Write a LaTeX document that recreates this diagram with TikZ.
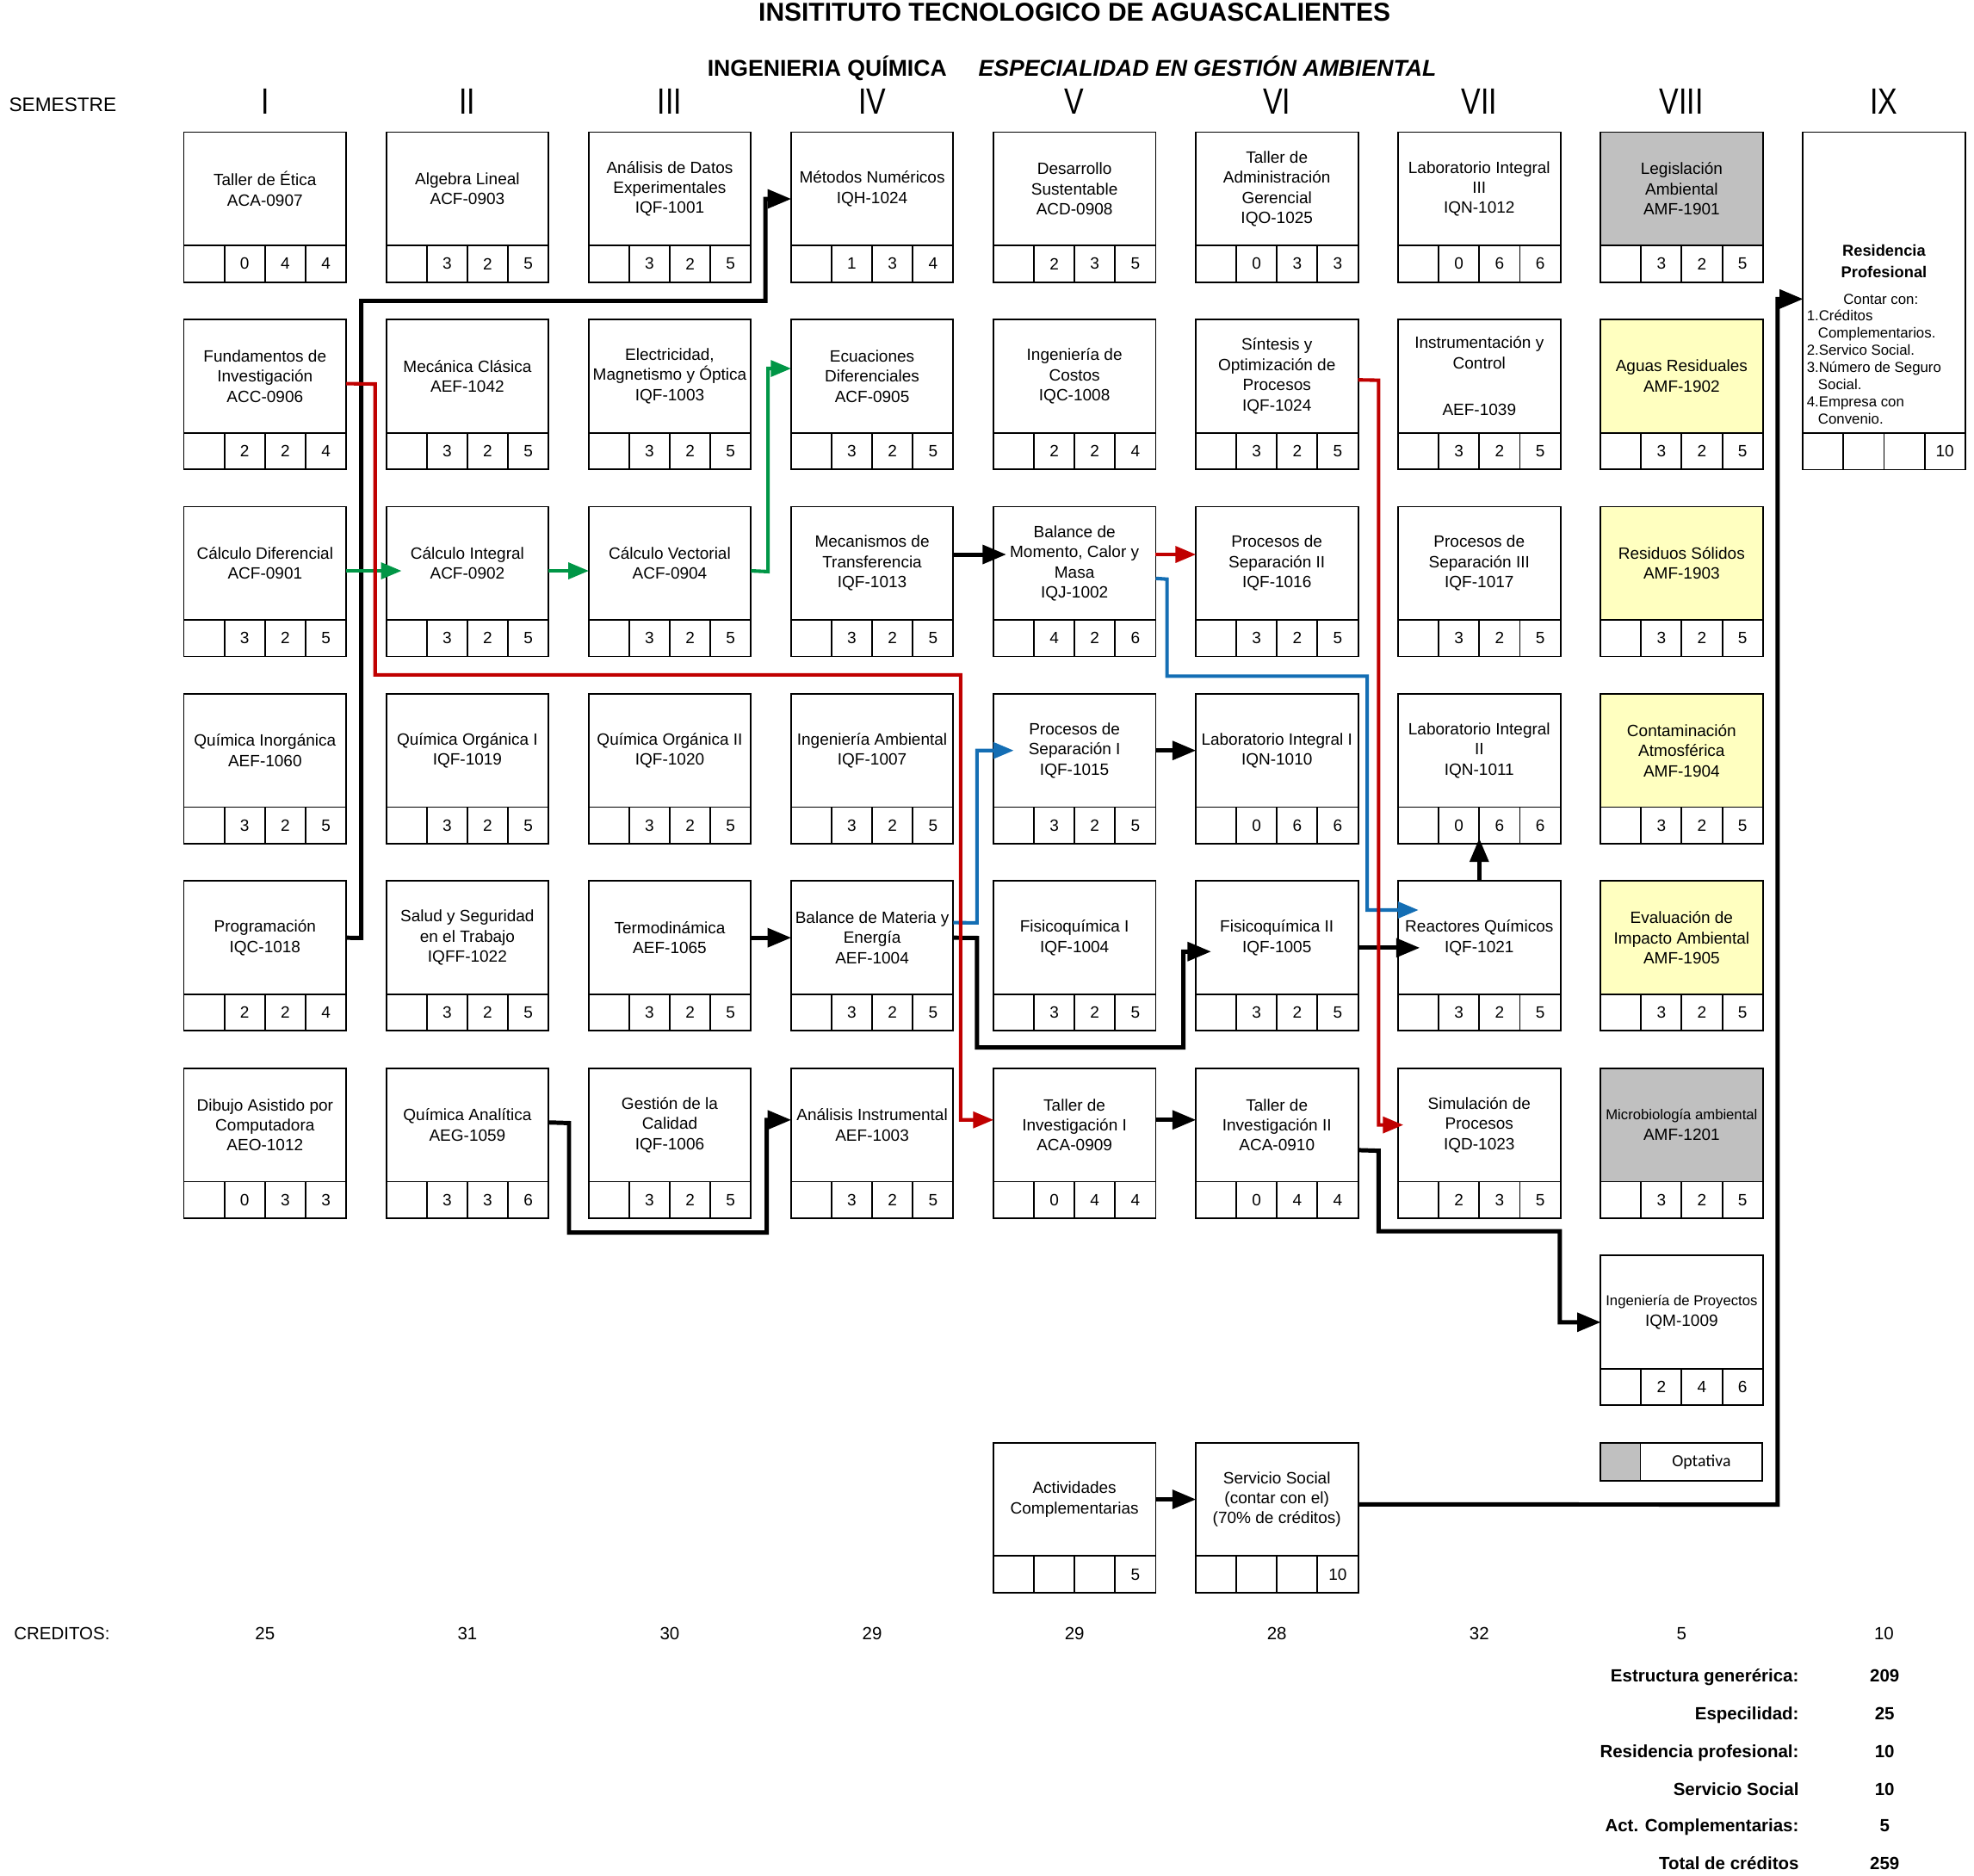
\documentclass[tikz,border=0pt]{standalone}
\usepackage{fontspec}
\setmainfont{Liberation Sans}
\newfontfamily\optfont{Carlito}
\newfontfamily\romfont[FakeStretch=0.8]{Liberation Sans}
\usepackage{tikz}
\usetikzlibrary{positioning}
\usetikzlibrary{shapes,arrows}
\definecolor{colGris}{RGB}{192,192,192}
\definecolor{colAmarillo}{RGB}{255,255,192}
\definecolor{colRojo}{RGB}{192,0,0}
\definecolor{colVerde}{RGB}{0,150,70}
\definecolor{colAzul}{RGB}{20,110,180}

\begin{document}
\begin{tikzpicture}[x=1pt,y=-1pt,>=triangle 45,
  curso/.style={draw,line width=1.3pt,outer sep=0pt,inner sep=1pt,minimum width=129pt,minimum height=90pt,align=center,font=\fontsize{13}{16}\selectfont},
  celda/.style={draw,line width=1.3pt,outer sep=0pt,inner sep=0pt,minimum width=32.25pt,minimum height=29pt,font=\fontsize{13}{15}\selectfont},
  negra/.style={->,line width=3.4pt},
  roja/.style={->,line width=2.8pt,color=colRojo},
  verde/.style={->,line width=2.8pt,color=colVerde},
  azul/.style={->,line width=2.8pt,color=colAzul},
  rotulo/.style={anchor=base,inner sep=0pt,font=\fontsize{14}{16}\selectfont}
]
\useasboundingbox (0,0) rectangle (1568,1490);

\node[anchor=base,font=\bfseries\fontsize{20.5}{22}\selectfont] (titulo) at (853.5,17) {INSITITUTO TECNOLOGICO DE AGUASCALIENTES};
\node[anchor=base,font=\bfseries\fontsize{18.2}{20}\selectfont] (carrera) at (657,60.5) {INGENIERIA QUÍMICA};
\node[anchor=base,font=\bfseries\itshape\fontsize{18.2}{20}\selectfont] (espec) at (959,60.5) {ESPECIALIDAD EN GESTIÓN AMBIENTAL};
\node[anchor=base west,inner sep=0pt,font=\fontsize{15.5}{17}\selectfont] (semestre) at (7,88.5) {SEMESTRE};
\foreach \rn [count=\i] in {I,II,III,IV,V,VI,VII,VIII,IX}
  \node[anchor=base,font=\romfont\fontsize{29}{30}\selectfont] (sem\i) at ({210.5+160.75*(\i-1)},90.5) {\rn};

\foreach \cx/\ry/\id/\txt/\ca/\cb/\cc/\fc in {
  1/1/tet/{Taller de Ética\\ACA-0907}/0/4/4/white,
  1/2/fin/{Fundamentos de\\Investigación\\ACC-0906}/2/2/4/white,
  1/3/cdi/{Cálculo Diferencial\\ACF-0901}/3/2/5/white,
  1/4/qin/{Química Inorgánica\\AEF-1060}/3/2/5/white,
  1/5/prog/{Programación\\IQC-1018}/2/2/4/white,
  1/6/dib/{Dibujo Asistido por\\Computadora\\AEO-1012}/0/3/3/white,
  2/1/alg/{Algebra Lineal\\ACF-0903}/3/2/5/white,
  2/2/mec/{Mecánica Clásica\\AEF-1042}/3/2/5/white,
  2/3/cin/{Cálculo Integral\\ACF-0902}/3/2/5/white,
  2/4/qo1/{Química Orgánica I\\IQF-1019}/3/2/5/white,
  2/5/sal/{Salud y Seguridad\\en el Trabajo\\IQFF-1022}/3/2/5/white,
  2/6/qan/{Química Analítica\\AEG-1059}/3/3/6/white,
  3/1/adx/{Análisis de Datos\\Experimentales\\IQF-1001}/3/2/5/white,
  3/2/ele/{Electricidad,\\Magnetismo y Óptica\\IQF-1003}/3/2/5/white,
  3/3/cve/{Cálculo Vectorial\\ACF-0904}/3/2/5/white,
  3/4/qo2/{Química Orgánica II\\IQF-1020}/3/2/5/white,
  3/5/ter/{Termodinámica\\AEF-1065}/3/2/5/white,
  3/6/gca/{Gestión de la\\Calidad\\IQF-1006}/3/2/5/white,
  4/1/met/{Métodos Numéricos\\IQH-1024}/1/3/4/white,
  4/2/edi/{Ecuaciones\\Diferenciales\\ACF-0905}/3/2/5/white,
  4/3/mtr/{Mecanismos de\\Transferencia\\IQF-1013}/3/2/5/white,
  4/4/iam/{Ingeniería Ambiental\\IQF-1007}/3/2/5/white,
  4/5/bme/{Balance de Materia y\\Energía\\AEF-1004}/3/2/5/white,
  4/6/ains/{Análisis Instrumental\\AEF-1003}/3/2/5/white,
  5/1/des/{Desarrollo\\Sustentable\\ACD-0908}/2/3/5/white,
  5/2/cos/{Ingeniería de\\Costos\\IQC-1008}/2/2/4/white,
  5/3/bmo/{Balance de\\Momento, Calor y\\Masa\\IQJ-1002}/4/2/6/white,
  5/4/ps1/{Procesos de\\Separación I\\IQF-1015}/3/2/5/white,
  5/5/fq1/{Fisicoquímica I\\IQF-1004}/3/2/5/white,
  5/6/ti1/{Taller de\\Investigación I\\ACA-0909}/0/4/4/white,
  5/8/act/{Actividades\\Complementarias}/{}/{}/5/white,
  6/1/tad/{Taller de\\Administración\\Gerencial\\IQO-1025}/0/3/3/white,
  6/2/sop/{Síntesis y\\Optimización de\\Procesos\\IQF-1024}/3/2/5/white,
  6/3/ps2/{Procesos de\\Separación II\\IQF-1016}/3/2/5/white,
  6/4/li1/{Laboratorio Integral I\\IQN-1010}/0/6/6/white,
  6/5/fq2/{Fisicoquímica II\\IQF-1005}/3/2/5/white,
  6/6/ti2/{Taller de\\Investigación II\\ACA-0910}/0/4/4/white,
  6/8/ssoc/{Servicio Social\\(contar con el)\\(70\% de créditos)}/{}/{}/10/white,
  7/1/li3/{Laboratorio Integral\\III\\IQN-1012}/0/6/6/white,
  7/2/ins/{Instrumentación y\\Control\\[21pt]AEF-1039}/3/2/5/white,
  7/3/ps3/{Procesos de\\Separación III\\IQF-1017}/3/2/5/white,
  7/4/li2/{Laboratorio Integral\\II\\IQN-1011}/0/6/6/white,
  7/5/rea/{Reactores Químicos\\IQF-1021}/3/2/5/white,
  7/6/sim/{Simulación de\\Procesos\\IQD-1023}/2/3/5/white,
  8/1/leg/{Legislación\\Ambiental\\AMF-1901}/3/2/5/colGris,
  8/2/agu/{Aguas Residuales\\AMF-1902}/3/2/5/colAmarillo,
  8/3/rsol/{Residuos Sólidos\\AMF-1903}/3/2/5/colAmarillo,
  8/4/con/{Contaminación\\Atmosférica\\AMF-1904}/3/2/5/colAmarillo,
  8/5/eia/{Evaluación de\\Impacto Ambiental\\AMF-1905}/3/2/5/colAmarillo,
  8/6/mic/{\fontsize{11.4}{15}\selectfont Microbiología ambiental\\AMF-1201}/3/2/5/colGris,
  8/7/ipr/{\fontsize{11.4}{15}\selectfont Ingeniería de Proyectos\\IQM-1009}/2/4/6/white}{
  \node[curso,fill=\fc] (\id) at ({210.5+160.75*(\cx-1)},{150+148.7*(\ry-1)}) {\txt};
  \node[celda,anchor=north west] (\id-0) at (\id.south west) {};
  \node[celda,right=0pt of \id-0] (\id-1) {\ca};
  \node[celda,right=0pt of \id-1] (\id-2) {\cb};
  \node[celda,right=0pt of \id-2] (\id-3) {\cc};
}

\node[curso,minimum height=239pt] (resid) at (1496.5,224.5) {};
\node[celda,anchor=north west] (resid-0) at (resid.south west) {};
\node[celda,right=0pt of resid-0] (resid-1) {};
\node[celda,right=0pt of resid-1] (resid-2) {};
\node[celda,right=0pt of resid-2] (resid-3) {10};
\node[align=center,font=\bfseries\fontsize{12.5}{17}\selectfont] (residT) at (1496.5,207.5) {Residencia\\Profesional};
\node[font=\fontsize{11.5}{13.7}\selectfont] (contar) at (1494,238) {Contar con:};
\node[anchor=north west,align=left,inner sep=0pt,font=\fontsize{11.5}{13.7}\selectfont] (requisitos) at (1435,246)
  {1.Créditos\\\hspace*{9pt}Complementarios.\\2.Servico Social.\\3.Número de Seguro\\\hspace*{9pt}Social.\\4.Empresa con\\\hspace*{9pt}Convenio.};

\node[draw,line width=1.3pt,outer sep=0pt,fill=colGris,minimum width=32pt,minimum height=30pt,anchor=north west] (optg) at (1271,1146) {};
\node[draw,line width=1.3pt,outer sep=0pt,minimum width=97pt,minimum height=30pt,anchor=west,font=\optfont\fontsize{13.5}{15}\selectfont] (opt) at (optg.east) {Optativa};

\draw[negra] (prog.east) -- (287,745) -- (287,239) -- (608,239) |- ([yshift=-8pt]met.west);
\draw[negra] ([yshift=7pt]mtr.east) -- ([shift={(10pt,7pt)}]bmo.west);
\draw[negra] (ter.east) -- (bme.west);
\draw[negra] (bme.east) -- (776,745) -- (776,832) -- (940,832) |- ([shift={(12pt,-11pt)}]fq2.west);
\draw[negra] (ps1.east) -- (li1.west);
\draw[negra] ([yshift=-8pt]fq2.east) -- ([shift={(17pt,-8pt)}]rea.west);
\draw[negra] (rea.north) -- ([yshift=4pt]li2-1.south east);
\draw[negra] ([yshift=2pt]qan.east) -- (452,892) -- (452,979) -- (609,979) |- ([yshift=4pt]ains.west);
\draw[negra] ([yshift=4pt]ti1.east) -- ([yshift=4pt]ti2.west);
\draw[negra] ([yshift=-20pt]ti2.east) -- (1095,914) -- (1095,978) -- (1239,978) |- ([yshift=-8pt]ipr.west);
\draw[negra] (act.east) -- (ssoc.west);
\draw[negra] ([yshift=-4pt]ssoc.east) -- (1412,1195) |- ([yshift=-13pt]resid.west);
\draw[verde] ([yshift=-6pt]cdi.east) -- ([shift={(12pt,-6pt)}]cin.west);
\draw[verde] ([yshift=-6pt]cin.east) -- ([yshift=-6pt]cve.west);
\draw[verde] ([yshift=-6pt]cve.east) -- (610,454) |- ([yshift=6pt]edi.west);
\draw[azul] ([yshift=12pt]bme.east) -- (776,733) |- ([xshift=16pt]ps1.west);
\draw[azul] ([yshift=-12pt]bmo.east) -- (927,460) -- (927,537) -- (1086,537) |- ([shift={(16pt,22pt)}]rea.west);
\draw[roja] ([yshift=-6pt]fin.east) -- (298,305) -- (298,536) -- (763,536) |- ([yshift=4pt]ti1.west);
\draw[roja] ([yshift=7pt]bmo.east) -- ([yshift=7pt]ps2.west);
\draw[roja] ([yshift=-3pt]sop.east) -- (1095,302) |- ([xshift=4pt]sim.west);

\node[rotulo,anchor=base west] (creditos) at (11,1302) {CREDITOS:};
\foreach \cr [count=\i] in {25,31,30,29,29,28,32,5,10}
  \node[rotulo] (cred\i) at ({210.5+160.75*(\i-1)},1302) {\cr};
\foreach \lab/\val/\yy [count=\i] in {Estructura generérica:/209/1336,Especilidad:/25/1366,Residencia profesional:/10/1396,Servicio Social/10/1426,Act. Complementarias:/5/1455,Total de créditos/259/1485}{
  \node[rotulo,anchor=base east,font=\bfseries\fontsize{14}{16}\selectfont] (resumen\i) at (1429,\yy) {\lab};
  \node[rotulo,font=\bfseries\fontsize{14}{16}\selectfont] (total\i) at (1497,\yy) {\val};
}
\end{tikzpicture}
\end{document}
